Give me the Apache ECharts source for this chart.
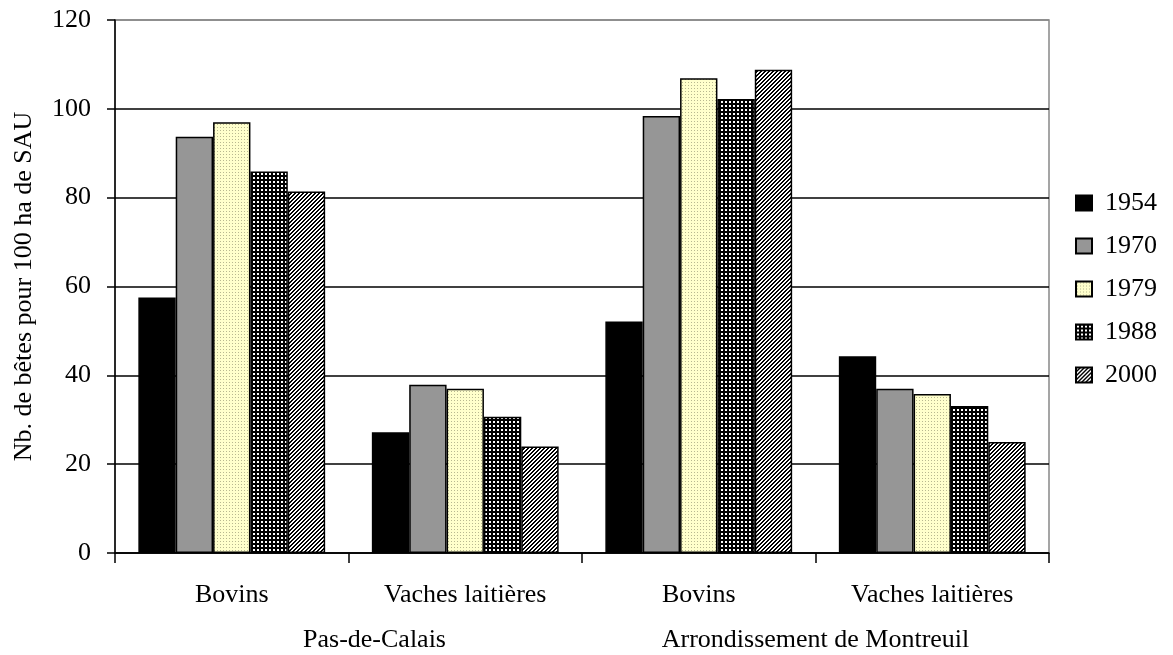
<!DOCTYPE html>
<html><head><meta charset="utf-8">
<script src="https://cdn.jsdelivr.net/npm/echarts@6/dist/echarts.min.js"></script>
<style>html,body{margin:0;padding:0;background:#fff}#c{width:1173px;height:655px}</style>
</head><body><div id="c"></div>
<script>
var groups = ['Pas-de-Calais', 'Arrondissement de Montreuil'];
var subCats = ['Bovins', 'Vaches laitières'];
var years = ['1954', '1970', '1979', '1988', '2000'];
var yTicks = [0, 20, 40, 60, 80, 100, 120];
// values per year, order: PdC Bovins, PdC Vaches, Montreuil Bovins, Montreuil Vaches
var v1954 = [57.5, 27.2, 52.1, 44.3];
var v1970 = [93.7, 37.9, 98.4, 37.0];
var v1979 = [97.0, 37.0, 106.9, 35.8];
var v1988 = [85.9, 30.7, 102.2, 33.1];
var v2000 = [81.4, 24.0, 108.8, 25.0];
var values = [v1954, v1970, v1979, v1988, v2000];

var categories = [];
groups.forEach(function (g) { subCats.forEach(function (s) { categories.push(s); }); });

function tile(w, h, draw) {
  var c = document.createElement('canvas'); c.width = w; c.height = h;
  var x = c.getContext('2d'); draw(x); return c;
}
var pYellow = tile(3, 3, function (x) {
  x.fillStyle = '#ffffcc'; x.fillRect(0, 0, 3, 3);
  x.fillStyle = '#b8b890'; x.fillRect(1, 1, 1, 1);
});
var pCheck = tile(4, 4, function (x) {
  x.fillStyle = '#000'; x.fillRect(0, 0, 4, 4);
  x.fillStyle = '#fff'; x.fillRect(1, 1, 2, 2);
});
var pHatch = tile(4, 4, function (x) {
  x.fillStyle = '#fff'; x.fillRect(0, 0, 4, 4);
  x.fillStyle = '#000';
  for (var i = 0; i < 4; i++) { x.fillRect(i, 3 - i, 1, 1); x.fillRect((i + 1) % 4, 3 - i, 1, 1); }
});
var fills = ['#000000', '#969696', { image: pYellow, repeat: 'repeat' }, { image: pCheck, repeat: 'repeat' }, { image: pHatch, repeat: 'repeat' }];

var font = 'Liberation Serif';
var fs = 26;
var series = years.map(function (y, i) {
  return {
    name: y, type: 'bar', data: values[i], barGap: '0%', barCategoryGap: '20%',
    itemStyle: { color: fills[i], borderColor: '#000', borderWidth: 1.5 }
  };
});

var chart = echarts.init(document.getElementById('c'), null, { renderer: 'canvas' });
chart.setOption({
  backgroundColor: '#fff',
  animation: false,
  textStyle: { fontFamily: font, color: '#000' },
  grid: { left: 115, right: 124, top: 20, bottom: 102, show: true, borderColor: '#888', borderWidth: 1.5 },
  legend: {
    orient: 'vertical', left: 1075, top: 190, padding: 0, itemWidth: 16, itemHeight: 15, itemGap: 17,
    data: years, icon: 'rect',
    textStyle: { fontFamily: font, fontSize: fs, color: '#000', padding: [0, 0, 0, 8] }
  },
  xAxis: [{
    type: 'category', data: categories, position: 'bottom',
    axisLine: { lineStyle: { color: '#000', width: 1.5 } },
    axisTick: { show: true, length: 10, inside: false, lineStyle: { color: '#000', width: 1.5 } },
    axisLabel: { fontFamily: font, fontSize: fs, color: '#000', margin: 29 }
  }, {
    type: 'category', data: groups, position: 'bottom', offset: 45,
    axisLine: { show: false }, axisTick: { show: false },
    axisLabel: {
      fontFamily: font, fontSize: fs, color: '#000', margin: 29,
      formatter: function (v, i) { return i === 0 ? '{s|' + v + '}' : v; },
      rich: { s: { fontFamily: font, fontSize: fs, color: '#000', padding: [0, 0, 0, 52] } }
    }
  }],
  yAxis: {
    type: 'value', min: yTicks[0], max: yTicks[yTicks.length - 1], interval: yTicks[1] - yTicks[0],
    name: 'Nb. de bêtes pour 100 ha de SAU', nameLocation: 'middle', nameGap: 78,
    nameTextStyle: { fontFamily: font, fontSize: fs, color: '#000' },
    axisLine: { show: true, lineStyle: { color: '#000', width: 1.5 } },
    axisTick: { show: true, length: 8, lineStyle: { color: '#000', width: 1.5 } },
    axisLabel: { fontFamily: font, fontSize: fs, color: '#000', margin: 24 },
    splitLine: { show: true, lineStyle: { color: ['#000', '#000', '#000', '#000', '#000', '#000', '#888'], width: 1.5 } }
  },
  series: series
});
</script></body></html>
